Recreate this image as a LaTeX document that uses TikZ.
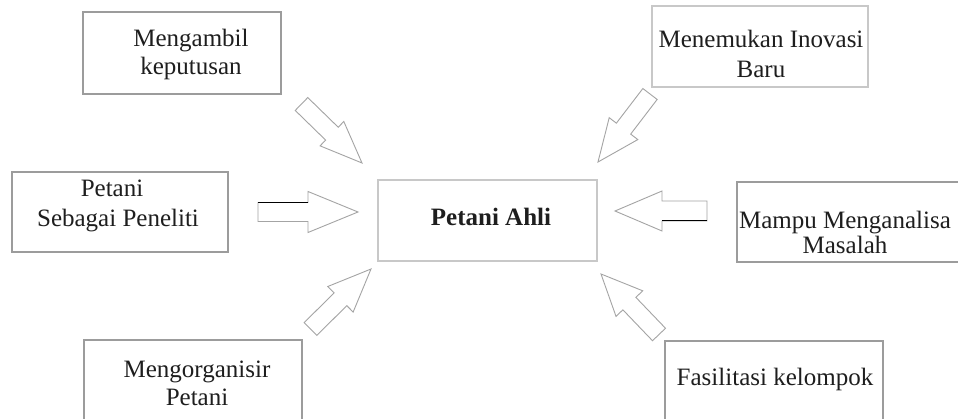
\documentclass[tikz,border=0pt]{standalone}
\usepackage{fontspec}
\setmainfont{Liberation Serif}
\usetikzlibrary{calc}

\definecolor{ink}{HTML}{1E1E1E}
\definecolor{rim}{HTML}{9C9C9C}
\definecolor{softrim}{HTML}{C8C8C8}
\definecolor{arrowrim}{HTML}{A4A4A4}
\definecolor{shade}{HTML}{5A5A5A}

% hollow block arrow from tail #1 to tip #2:
% #3 half shaft width, #4 half head width, #5 head length
\newcommand\blockarrow[5]{%
  \path ($(#2)!#5!(#1)$) coordinate (#2-base);
  \draw[arrowline]
    ($(#1)!#3!90:(#2)$) -- ($(#2-base)!#3!90:(#2)$) --
    ($(#2-base)!#4!90:(#2)$) -- (#2) --
    ($(#2-base)!#4!-90:(#2)$) -- ($(#2-base)!#3!-90:(#2)$) --
    ($(#1)!#3!-90:(#2)$) -- cycle;}

\tikzset{
  box/.style={draw=rim, line width=1.2pt, fill=white, rectangle, inner sep=0pt},
  hub/.style={box, draw=softrim},
  label/.style={text=ink, inner sep=0pt, align=center, anchor=base,
    font=\fontsize{25}{29}\selectfont},
  arrowline/.style={draw=arrowrim, line width=0.9pt, fill=white, line join=miter},
}

\begin{document}
\begin{tikzpicture}[x=1pt, y=-1pt]
  \clip (0,0) rectangle (958,419);
  \fill[white] (0,0) rectangle (958,419);

  % boxes
  \node[box, minimum width=198pt, minimum height=82pt] (b1) at (182,53) {};
  \node[box, draw=softrim, minimum width=216pt, minimum height=81pt] (b2) at (760,46.5) {};
  \node[box, minimum width=216pt, minimum height=80pt] (b3) at (120,212) {};
  \node[hub, minimum width=219pt, minimum height=81pt] (hub) at (487.5,220.5) {};
  \node[box, minimum width=224pt, minimum height=80pt] (b4) at (849,222) {};
  \node[box, minimum width=218pt, minimum height=100pt] (b5) at (193,390) {};
  \node[box, minimum width=218pt, minimum height=100pt] (b6) at (774,391) {};

  % texts (anchored at the baseline of the last line)
  \node[label, font=\fontsize{25}{28}\selectfont] (t1) at (191,75) {Mengambil\\keputusan};
  \node[label, font=\fontsize{25}{30}\selectfont] (t2) at (761,78) {Menemukan Inovasi\\Baru};
  \node[label, font=\fontsize{25}{30}\selectfont] (t3) at (118,227) {Petani\hbox to 12pt{}\\Sebagai Peneliti};
  \node[label, font=\fontsize{25}{29}\selectfont\bfseries] (t0) at (491,226) {Petani Ahli};
  \node[label, font=\fontsize{25}{25}\selectfont] (t4) at (845,254) {Mampu Menganalisa\\Masalah};
  \node[label, font=\fontsize{25}{28}\selectfont] (t5) at (197,405) {Mengorganisir\\Petani};
  \node[label] (t6) at (775,385) {Fasilitasi kelompok};

  % arrow ends
  \coordinate (a1t) at (301.5,104);  \coordinate (a1h) at (362,163);
  \coordinate (a2t) at (650,94);     \coordinate (a2h) at (598,162);
  \coordinate (a3t) at (258,212);    \coordinate (a3h) at (358,212);
  \coordinate (a4t) at (707,211);    \coordinate (a4h) at (615,211);
  \coordinate (a5t) at (310.5,329);  \coordinate (a5h) at (371,269);
  \coordinate (a6t) at (659,334.5);  \coordinate (a6h) at (601,274);

  \blockarrow{a1t}{a1h}{9pt}{17pt}{42pt}
  \blockarrow{a2t}{a2h}{9pt}{18pt}{42pt}
  \blockarrow{a3t}{a3h}{9.5pt}{20.5pt}{50pt}
  \blockarrow{a4t}{a4h}{10pt}{20pt}{47pt}
  \blockarrow{a5t}{a5h}{9pt}{18pt}{43pt}
  \blockarrow{a6t}{a6h}{9pt}{18.5pt}{41pt}

  % darker shaft edges on the two level arrows
  \draw[shade, line width=1pt] ($(a3t)!9.5pt!90:(a3h)$) -- ($(a3h-base)!9.5pt!90:(a3h)$);
  \draw[shade, line width=1pt] ($(a4t)!10pt!90:(a4h)$) -- ($(a4h-base)!10pt!90:(a4h)$);
\end{tikzpicture}
\end{document}
